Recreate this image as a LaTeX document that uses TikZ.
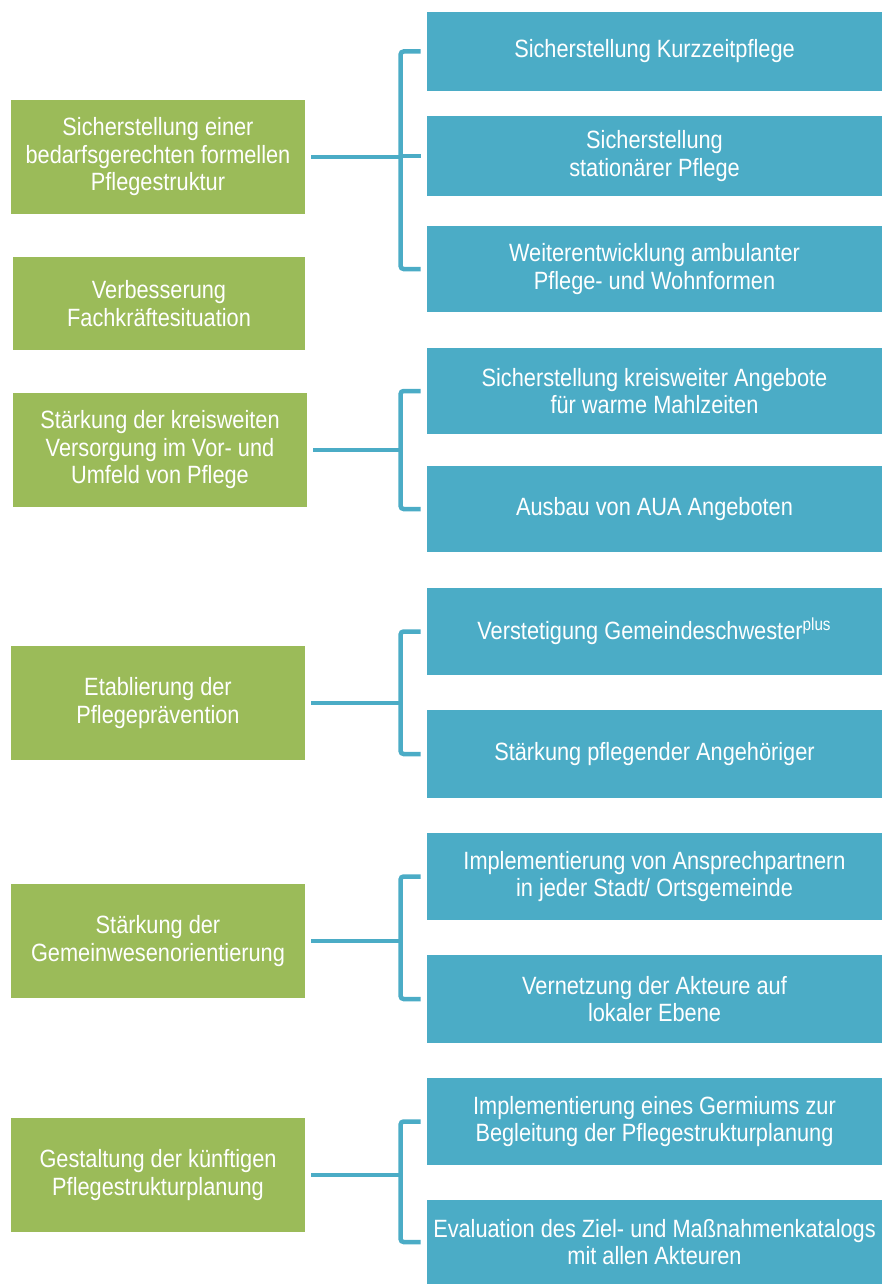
\documentclass[tikz,border=0pt]{standalone}
\usepackage{fontspec}
\setmainfont{Liberation Sans}[FakeStretch=0.87]
\definecolor{boxgreen}{RGB}{155,187,89}
\definecolor{boxblue}{RGB}{75,172,198}
\tikzset{
  gbox/.style={fill=boxgreen, draw=none, text=white, align=center, inner sep=0pt,
    minimum width=147pt, font=\fontsize{12.5pt}{13.75pt}\selectfont},
  bbox/.style={fill=boxblue, draw=none, text=white, align=center, inner sep=0pt,
    minimum width=227.5pt, font=\fontsize{12.5pt}{13.75pt}\selectfont},
  conn/.style={draw=boxblue, line width=2.25pt, rounded corners=1.5pt}
}
\begin{document}
\begin{tikzpicture}[x=0.5pt,y=-0.5pt]
\useasboundingbox (0,0) rectangle (884,1284);
% green boxes
\node[gbox, minimum height=57pt] (G1) at (158,157) {Sicherstellung einer\\bedarfsgerechten formellen\\Pflegestruktur};
\node[gbox, minimum width=146pt, minimum height=46.5pt] (G2) at (159,303.5) {Verbesserung\\Fachkräftesituation};
\node[gbox, minimum height=57pt] (G3) at (160,450) {Stärkung der kreisweiten\\Versorgung im Vor- und\\Umfeld von Pflege};
\node[gbox, minimum height=57pt] (G4) at (158,703) {Etablierung der\\Pflegeprävention};
\node[gbox, minimum height=57pt] (G5) at (158,941) {Stärkung der\\Gemeinwesenorientierung};
\node[gbox, minimum height=57pt] (G6) at (158,1175) {Gestaltung der künftigen\\Pflegestrukturplanung};
% blue boxes
\node[bbox, minimum height=39.5pt] (B1) at (654.5,51.5) {Sicherstellung Kurzzeitpflege};
\node[bbox, minimum height=40pt] (B2) at (654.5,156) {Sicherstellung\\stationärer Pflege};
\node[bbox, minimum height=43pt] (B3) at (654.5,269) {Weiterentwicklung ambulanter\\Pflege- und Wohnformen};
\node[bbox, minimum height=43pt] (B4) at (654.5,391) {Sicherstellung kreisweiter Angebote\\für warme Mahlzeiten};
\node[bbox, minimum height=43pt] (B5) at (654.5,509) {Ausbau von AUA Angeboten};
\node[bbox, minimum height=43.5pt] (B6) at (654.5,631.5) {Verstetigung Gemeindeschwester\textsuperscript{plus}};
\node[bbox, minimum height=44pt] (B7) at (654.5,754) {Stärkung pflegender Angehöriger};
\node[bbox, minimum height=43.5pt] (B8) at (654.5,876.5) {Implementierung von Ansprechpartnern\\in jeder Stadt/ Ortsgemeinde};
\node[bbox, minimum height=44pt] (B9) at (654.5,999) {Vernetzung der Akteure auf\\lokaler Ebene};
\node[bbox, minimum height=43.5pt] (B10) at (654.5,1121.5) {Implementierung eines Germiums zur\\Begleitung der Pflegestrukturplanung};
\node[bbox, minimum height=42pt] (B11) at (654.5,1242) {Evaluation des Ziel- und Maßnahmenkatalogs\\mit allen Akteuren};
% brackets
\draw[conn] ([xshift=-3pt]B1.west) -- ++(-10pt,0) |- ([xshift=-3pt]B3.west);
\draw[conn] ([xshift=-3pt]B2.west) -- ++(-10pt,0);
\draw[conn] ([xshift=3pt]G1.east) -- ([xshift=-13pt]B1.west |- G1.east);
\draw[conn] ([xshift=-3pt]B4.west) -- ++(-10pt,0) |- ([xshift=-3pt]B5.west);
\draw[conn] ([xshift=3pt]G3.east) -- ([xshift=-13pt]B4.west |- G3.east);
\draw[conn] ([xshift=-3pt]B6.west) -- ++(-10pt,0) |- ([xshift=-3pt]B7.west);
\draw[conn] ([xshift=3pt]G4.east) -- ([xshift=-13pt]B6.west |- G4.east);
\draw[conn] ([xshift=-3pt]B8.west) -- ++(-10pt,0) |- ([xshift=-3pt]B9.west);
\draw[conn] ([xshift=3pt]G5.east) -- ([xshift=-13pt]B8.west |- G5.east);
\draw[conn] ([xshift=-3pt]B10.west) -- ++(-10pt,0) |- ([xshift=-3pt]B11.west);
\draw[conn] ([xshift=3pt]G6.east) -- ([xshift=-13pt]B10.west |- G6.east);
\end{tikzpicture}
\end{document}
